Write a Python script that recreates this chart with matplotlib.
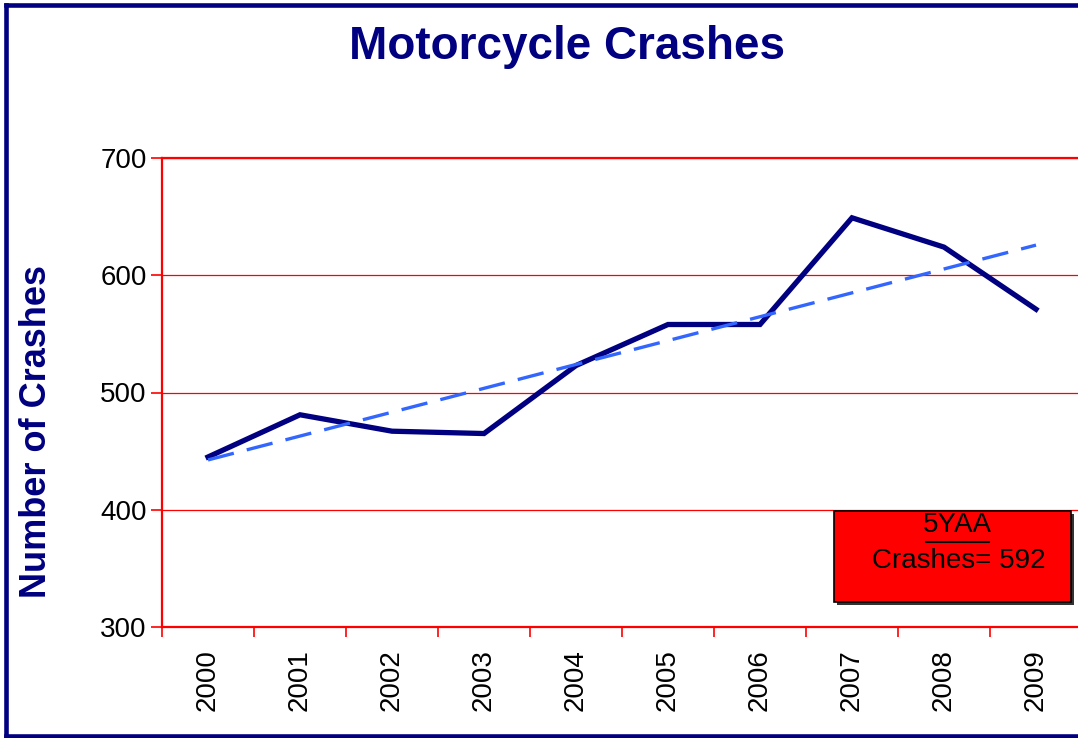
import matplotlib.pyplot as plt
import numpy as np
from matplotlib.patches import Rectangle
from matplotlib.lines import Line2D

plt.rcParams["font.family"] = ["Liberation Sans", "DejaVu Sans"]

# Data
years = ["2000", "2001", "2002", "2003", "2004", "2005", "2006", "2007", "2008", "2009"]
crashes = [445, 481, 467, 465, 523, 558, 558, 649, 624, 571]
avg_label = "5YAA"
avg_value = 592

W, H = 1078, 738
fig = plt.figure(figsize=(W / 100, H / 100), dpi=100)


def fx(px):
    return px / W


def fy(py):
    return 1 - py / H


# Plot area (runs slightly past the right edge, like the original)
ax = fig.add_axes([fx(162), fy(627), fx(1082 - 162), (627 - 158) / H])

x = np.arange(len(years))
ax.plot(x, crashes, color="#000080", lw=3.8, solid_joinstyle="miter", zorder=3)

# linear trend line
coef = np.polyfit(x, crashes, 1)
ax.plot(x, np.polyval(coef, x), color="#3366FF", lw=2.4, dashes=(8, 4), zorder=4)

ax.set_xlim(-0.5, len(years) - 0.5)
ax.set_ylim(300, 700)
ax.set_yticks([300, 400, 500, 600, 700])
ax.set_xticks(x)
ax.set_xticklabels(years, rotation=90, fontsize=20)
ax.set_xticks(np.arange(-0.5, len(years)), minor=True)
ax.tick_params(axis="x", which="major", length=0, pad=16)
ax.tick_params(axis="x", which="minor", length=7, width=1.2, color="red", direction="out")
ax.tick_params(axis="y", length=8, width=1.2, color="red", labelsize=20, pad=3)

for s in ax.spines.values():
    s.set_color("red")
    s.set_linewidth(1.6)
ax.spines["right"].set_visible(False)

ax.yaxis.grid(True, color="red", lw=0.9)
ax.set_axisbelow(True)

# title and y label
fig.text(fx(567), fy(47), "Motorcycle Crashes", ha="center", va="center",
         fontsize=33, fontweight="bold", color="#000080")
fig.text(fx(37), fy(431), "Number of Crashes", ha="center", va="center",
         rotation=90, fontsize=26, fontweight="bold", color="#000080")

# 5YAA box with shadow
bx0, by0, bx1, by1 = 834, 511, 1071, 602
fig.patches.append(Rectangle((fx(bx0 + 3), fy(by1 + 3)), fx(bx1 - bx0), (by1 - by0) / H,
                             transform=fig.transFigure, facecolor="#333333",
                             edgecolor="none", zorder=5))
fig.patches.append(Rectangle((fx(bx0), fy(by1)), fx(bx1 - bx0), (by1 - by0) / H,
                             transform=fig.transFigure, facecolor="#FF0000",
                             edgecolor="black", lw=1.2, zorder=6))
fig.text(fx(957), fy(525), avg_label, ha="center", va="center", fontsize=20, zorder=7)
fig.lines.append(Line2D([fx(926), fx(989)], [fy(542), fy(542)], transform=fig.transFigure,
                        color="black", lw=1.5, zorder=7))
fig.text(fx(959), fy(561), f"Crashes= {avg_value}", ha="center", va="center",
         fontsize=20, zorder=7)

# outer navy frame (left, top, bottom only; right edge is cut off)
frame = dict(transform=fig.transFigure, color="#000080", lw=3.3, zorder=10,
             solid_capstyle="projecting")
fig.lines.append(Line2D([fx(5.5), fx(5.5)], [fy(4.5), fy(735.5)], **frame))
fig.lines.append(Line2D([fx(5.5), 1.01], [fy(4.5), fy(4.5)], **frame))
fig.lines.append(Line2D([fx(5.5), 1.01], [fy(735.5), fy(735.5)], **frame))

fig.savefig("out.png", dpi=100)
